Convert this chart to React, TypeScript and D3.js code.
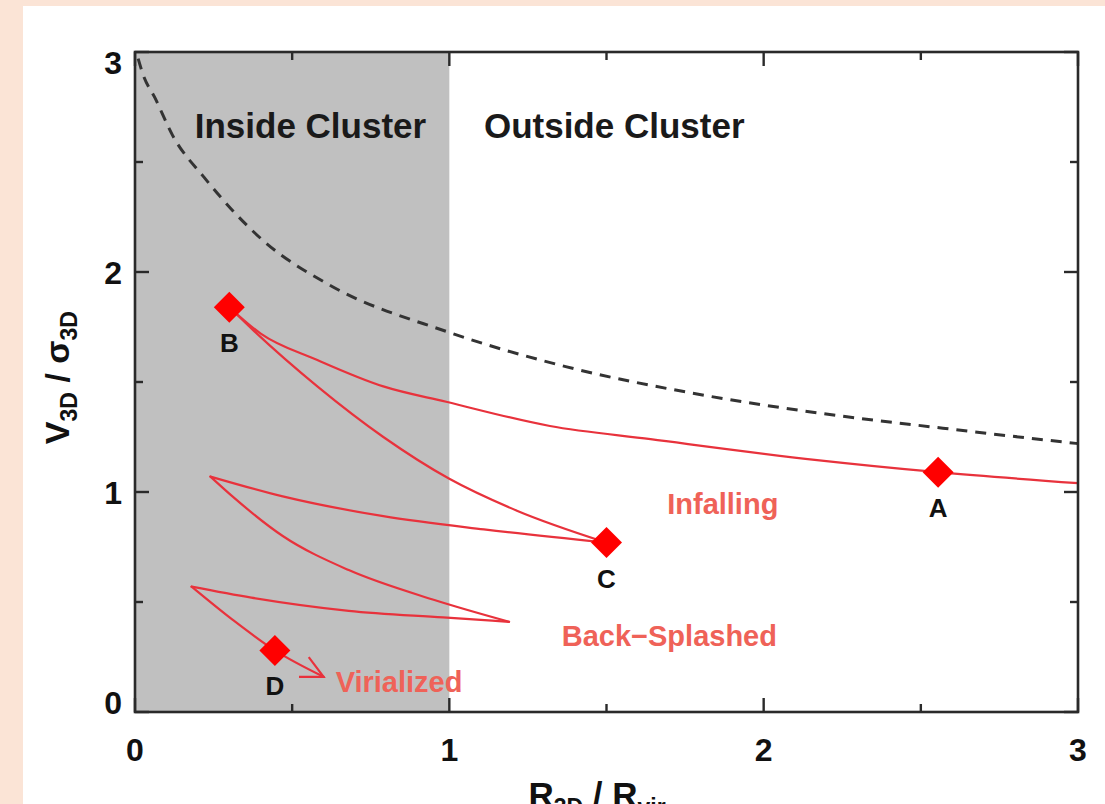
import React, { useEffect, useRef } from "react";
import * as d3 from "d3";

// axis ticks
const majorTicks = [0, 1, 2, 3];
const minorTicks = [0.5, 1.5, 2.5];

// escape velocity curve (dashed)
const escR = [0.01, 0.025, 0.064, 0.12, 0.22, 0.41, 0.62, 0.99, 1.37, 1.77, 2.17, 2.57, 3.0];
const escV = [2.97, 2.9, 2.79, 2.62, 2.43, 2.14, 1.94, 1.73, 1.57, 1.45, 1.36, 1.29, 1.22];

// galaxy orbit track, one list per leg (each leg runs one way in R)
const legR = [
  [3.0, 2.555, 2.17, 1.64, 1.32, 0.99, 0.79, 0.58, 0.4, 0.3],
  [0.3, 0.38, 0.58, 0.79, 1.0, 1.215, 1.5],
  [1.5, 1.11, 0.79, 0.47, 0.24],
  [0.24, 0.31, 0.47, 0.68, 0.95, 1.19],
  [1.19, 0.98, 0.68, 0.37, 0.18],
  [0.18, 0.31, 0.445, 0.6],
];
const legV = [
  [1.04, 1.09, 1.145, 1.24, 1.3, 1.41, 1.48, 1.6, 1.72, 1.84],
  [1.84, 1.73, 1.48, 1.25, 1.06, 0.915, 0.77],
  [0.77, 0.83, 0.89, 0.98, 1.07],
  [1.07, 0.98, 0.8, 0.645, 0.51, 0.41],
  [0.41, 0.43, 0.46, 0.52, 0.57],
  [0.57, 0.42, 0.28, 0.16],
];

// marked stages
const stageNames = ["A", "B", "C", "D"];
const stageR = [2.555, 0.3, 1.5, 0.445];
const stageV = [1.09, 1.84, 0.77, 0.28];

const regionNames = ["Inside Cluster", "Outside Cluster"];
const phaseNames = ["Infalling", "Back\u2212Splashed", "Virialized"];
const phaseR = [1.87, 1.7, 0.84];
const phaseV = [0.9, 0.3, 0.09];

const App = () => {
  const ref = useRef<SVGSVGElement | null>(null);

  useEffect(() => {
    const svg = d3.select(ref.current);
    svg.selectAll("*").remove();

    const W = 1105;
    const H = 804;
    const m = { left: 135, top: 52, right: 27, bottom: 92 };
    const w = W - m.left - m.right;
    const h = H - m.top - m.bottom;
    const font = "'Liberation Sans', Arial, Helvetica, sans-serif";
    const red = "#e8323c";

    svg.append("rect").attr("width", W).attr("height", H).attr("fill", "#fbe4d6");
    svg.append("rect").attr("x", 23).attr("y", 6).attr("width", W - 23).attr("height", H - 6).attr("fill", "#ffffff");

    const x = d3.scaleLinear().domain([0, 3]).range([0, w]);
    const y = d3.scaleLinear().domain([0, 3]).range([h, 0]);

    const g = svg.append("g").attr("transform", `translate(${m.left},${m.top})`);

    // inside-cluster shading
    g.append("rect")
      .attr("x", x(0))
      .attr("y", y(3))
      .attr("width", x(1) - x(0))
      .attr("height", y(0) - y(3))
      .attr("fill", "#c0c0c0");

    // region labels
    [0.19, 1.11].forEach((r, i) => {
      g.append("text")
        .attr("x", x(r))
        .attr("y", 86)
        .attr("font-family", font)
        .attr("font-weight", "bold")
        .attr("font-size", 35)
        .attr("fill", "#1a1a1a")
        .text(regionNames[i]);
    });

    const line = d3
      .line<[number, number]>()
      .x((d) => x(d[0]))
      .y((d) => y(d[1]))
      .curve(d3.curveMonotoneX);

    // dashed escape curve
    const esc = escR.map((r, i) => [r, escV[i]] as [number, number]);
    g.append("path")
      .attr("fill", "none")
      .attr("stroke", "#333")
      .attr("stroke-width", 3)
      .attr("stroke-dasharray", "11,8")
      .attr("d", line(esc));

    // arrow marker
    const defs = svg.append("defs");
    defs
      .append("marker")
      .attr("id", "arr")
      .attr("markerUnits", "userSpaceOnUse")
      .attr("viewBox", "-26 -14 30 28")
      .attr("refX", 0)
      .attr("refY", 0)
      .attr("markerWidth", 30)
      .attr("markerHeight", 28)
      .attr("orient", "auto")
      .append("path")
      .attr("d", "M-22,-11L0,0L-22,11")
      .attr("fill", "none")
      .attr("stroke", red)
      .attr("stroke-width", 2.2);

    // orbit track
    legR.forEach((rs, k) => {
      const pts = rs.map((r, i) => [r, legV[k][i]] as [number, number]);
      g.append("path")
        .attr("fill", "none")
        .attr("stroke", red)
        .attr("stroke-width", 2.2)
        .attr("stroke-linecap", "round")
        .attr("marker-end", k === legR.length - 1 ? "url(#arr)" : null)
        .attr("d", line(pts));
    });

    // stage diamonds
    const sym = d3.symbol().type(d3.symbolSquare).size(480);
    stageNames.forEach((name, i) => {
      g.append("path")
        .attr("d", sym() as string)
        .attr("transform", `translate(${x(stageR[i])},${y(stageV[i])}) rotate(45)`)
        .attr("fill", "#ff0000");
      g.append("text")
        .attr("x", x(stageR[i]))
        .attr("y", y(stageV[i]) + 45)
        .attr("text-anchor", "middle")
        .attr("font-family", font)
        .attr("font-weight", "bold")
        .attr("font-size", 26)
        .attr("fill", "#111")
        .text(name);
    });

    // phase labels
    phaseNames.forEach((p, i) => {
      g.append("text")
        .attr("x", x(phaseR[i]))
        .attr("y", y(phaseV[i]))
        .attr("text-anchor", "middle")
        .attr("font-family", font)
        .attr("font-weight", "bold")
        .attr("font-size", 29)
        .attr("fill", "#ef6258")
        .text(p);
    });

    // frame
    g.append("rect")
      .attr("x", 0)
      .attr("y", 0)
      .attr("width", w)
      .attr("height", h)
      .attr("fill", "none")
      .attr("stroke", "#2a2a2a")
      .attr("stroke-width", 2.6);

    // inward ticks on all four sides
    const tk = g.append("g").attr("stroke", "#2a2a2a").attr("stroke-width", 2.4);
    const drawTicks = (vals: number[], len: number) => {
      vals.forEach((v) => {
        tk.append("line").attr("x1", x(v)).attr("x2", x(v)).attr("y1", h).attr("y2", h - len);
        tk.append("line").attr("x1", x(v)).attr("x2", x(v)).attr("y1", 0).attr("y2", len);
        tk.append("line").attr("x1", 0).attr("x2", len).attr("y1", y(v)).attr("y2", y(v));
        tk.append("line").attr("x1", w).attr("x2", w - len).attr("y1", y(v)).attr("y2", y(v));
      });
    };
    drawTicks(majorTicks, 14);
    drawTicks(minorTicks, 8);

    // tick labels
    majorTicks.forEach((v) => {
      g.append("text")
        .attr("x", x(v))
        .attr("y", h + 49)
        .attr("text-anchor", "middle")
        .attr("font-family", font)
        .attr("font-weight", "bold")
        .attr("font-size", 32)
        .attr("fill", "#111")
        .text(v);
      const yy = Math.min(Math.max(y(v), 10), h - 10);
      g.append("text")
        .attr("x", -13)
        .attr("y", yy)
        .attr("dy", "0.36em")
        .attr("text-anchor", "end")
        .attr("font-family", font)
        .attr("font-weight", "bold")
        .attr("font-size", 32)
        .attr("fill", "#111")
        .text(v);
    });

    // x axis title (runs off the bottom edge, as in the source figure)
    const xt = svg
      .append("text")
      .attr("x", m.left + x(1.47))
      .attr("y", 807)
      .attr("text-anchor", "middle")
      .attr("font-family", font)
      .attr("font-weight", "bold")
      .attr("font-size", 35)
      .attr("fill", "#111");
    xt.append("tspan").text("R");
    xt.append("tspan").attr("font-size", 23).attr("dy", 8).text("3D");
    xt.append("tspan").attr("dy", -8).text(" / R");
    xt.append("tspan").attr("font-size", 23).attr("dy", 8).text("vir");

    // y axis title
    const yt = svg
      .append("text")
      .attr("transform", `translate(69,${m.top + y(1.52)}) rotate(-90)`)
      .attr("text-anchor", "middle")
      .attr("font-family", font)
      .attr("font-weight", "bold")
      .attr("font-size", 34)
      .attr("fill", "#111");
    yt.append("tspan").text("V");
    yt.append("tspan").attr("font-size", 23).attr("dy", 8).text("3D");
    yt.append("tspan").attr("dy", -8).text(" / \u03c3");
    yt.append("tspan").attr("font-size", 23).attr("dy", 8).text("3D");
  }, []);

  return (
    <div style={{ position: "fixed", left: 0, top: 0 }}>
      <svg ref={ref} width={1105} height={804} style={{ display: "block" }} />
    </div>
  );
};

export default App;
